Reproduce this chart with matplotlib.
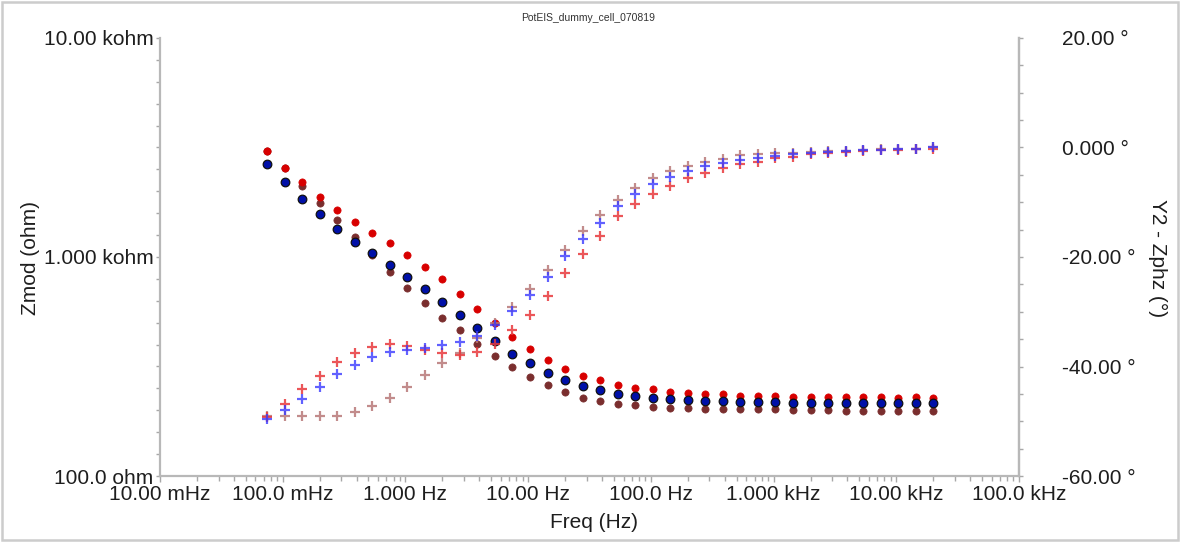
import matplotlib
matplotlib.use("Agg")
import matplotlib.pyplot as plt
from matplotlib.ticker import FixedLocator, FixedFormatter, NullFormatter
from matplotlib.patches import Rectangle

plt.rcParams['font.family'] = ['Liberation Sans', 'DejaVu Sans']

# Measurement frequencies (Hz), low to high
freq = [0.07455, 0.1036, 0.1439, 0.2, 0.2779, 0.3861, 0.5365, 0.7455, 1.036, 1.439,
        2.0, 2.779, 3.861, 5.365, 7.455, 10.36, 14.39, 20.0, 27.79, 38.61,
        53.65, 74.55, 103.6, 143.9, 200.0, 277.9, 386.1, 536.5, 745.5, 1036.0,
        1439.0, 2000.0, 2779.0, 3861.0, 5365.0, 7455.0, 10359.0, 14394.0, 20000.0]

# |Z| (ohm) for the three runs
zmod_blue = [2660, 2193, 1834, 1572, 1343, 1170, 1040, 919, 813, 713,
             621, 543, 472, 413, 361, 327, 295, 273, 257, 246,
             238, 232, 228, 225, 222, 221, 221, 217, 217, 217,
             216, 216, 216, 216, 216, 216, 216, 216, 216]
zmod_red = [3048, 2557, 2193, 1874, 1640, 1450, 1292, 1156, 1021, 903,
            794, 678, 579, 500, 429, 379, 339, 309, 287, 274,
            259, 253, 249, 243, 240, 237, 236, 233, 233, 233,
            230, 230, 230, 230, 230, 230, 228, 230, 228]
zmod_brown = [3048, 2541, 2117, 1766, 1480, 1230, 1024, 854, 724, 619,
              528, 464, 402, 354, 314, 284, 259, 242, 226, 219,
              213, 210, 207, 205, 205, 202, 202, 202, 202, 202,
              200, 200, 200, 199, 199, 199, 199, 199, 199]

# Phase (degrees) for the three runs
zphz_blue = [-49.6, -48.0, -45.9, -43.7, -41.4, -39.7, -38.2, -37.4, -36.9, -36.7,
             -36.1, -35.6, -34.5, -32.5, -29.8, -27.0, -23.7, -19.9, -16.8, -13.7,
             -10.6, -8.5, -6.7, -5.4, -4.3, -3.4, -2.9, -2.3, -1.9, -1.55,
             -1.24, -1.0, -0.82, -0.7, -0.5, -0.4, -0.33, -0.27, 0.04]
zphz_red = [-49.2, -46.8, -44.1, -41.7, -39.1, -37.5, -36.4, -35.9, -36.2, -37.0,
            -37.6, -37.9, -37.4, -35.9, -33.4, -30.6, -27.1, -22.9, -19.5, -16.2,
            -12.6, -10.4, -8.5, -7.0, -5.6, -4.6, -3.7, -3.1, -2.6, -1.9,
            -1.7, -1.2, -0.95, -0.8, -0.6, -0.46, -0.46, -0.33, -0.33]
zphz_brown = [-49.0, -49.1, -49.1, -49.1, -49.0, -48.4, -47.2, -45.8, -43.7, -41.6,
              -39.4, -37.5, -34.8, -32.1, -29.1, -25.9, -22.4, -18.7, -15.2, -12.3,
              -9.5, -7.4, -5.6, -4.3, -3.4, -2.6, -2.1, -1.4, -1.2, -0.95,
              -0.95, -0.77, -0.7, -0.6, -0.4, -0.33, -0.2, -0.2, 0.04]

x_ticks = [0.01, 0.1, 1, 10, 100, 1e3, 1e4, 1e5]
x_labels = ["10.00 mHz", "100.0 mHz", "1.000 Hz", "10.00 Hz", "100.0 Hz",
            "1.000 kHz", "10.00 kHz", "100.0 kHz"]
z_ticks = [100, 1000, 10000]
z_labels = ["100.0 ohm", "1.000 kohm", "10.00 kohm"]
p_ticks = [-60, -40, -20, 0, 20]
p_labels = ["-60.00 \u00b0", "-40.00 \u00b0", "-20.00 \u00b0", "0.000 \u00b0", "20.00 \u00b0"]

W, H = 1180, 542
fig = plt.figure(figsize=(W / 100, H / 100), dpi=100)
fig.patch.set_facecolor('white')
fig.patches.append(Rectangle((2 / W, 2 / H), 1 - 4 / W, 1 - 4 / H, transform=fig.transFigure,
                             fill=False, edgecolor='#cccccc', linewidth=1.8))

ax = fig.add_axes([160 / W, 66 / H, 859 / W, 438 / H])
ax.set_xscale('log')
ax.set_yscale('log')
ax.set_xlim(0.01, 1e5)
ax.set_ylim(100, 1e4)

spine_c = '#b8b8b8'
tick_c = '#a8a8a8'
text_c = '#1e1e1e'
fs = 15

ax.spines['top'].set_visible(False)
for s in ['left', 'bottom', 'right']:
    ax.spines[s].set_color(spine_c)
    ax.spines[s].set_linewidth(1.6)

# Magnitude markers
ax.plot(freq, zmod_brown, 'o', ms=5.2, color='#7a2e2e', mec='#7a2e2e', mew=0.5, zorder=3)
ax.plot(freq, zmod_red, 'o', ms=5.2, color='#d80000', mec='#d80000', mew=0.5, zorder=4)
ax.plot(freq, zmod_blue, 'o', ms=6.2, color='#0010a8', mec='#101010', mew=0.9, zorder=5)

ax.xaxis.set_major_locator(FixedLocator(x_ticks))
ax.xaxis.set_major_formatter(FixedFormatter(x_labels))
minor_x = [m * 10.0 ** d for d in range(-2, 5) for m in range(2, 10)]
ax.xaxis.set_minor_locator(FixedLocator(minor_x))
ax.xaxis.set_minor_formatter(NullFormatter())

ax.yaxis.set_major_locator(FixedLocator(z_ticks))
ax.yaxis.set_major_formatter(FixedFormatter(z_labels))
minor_y = [10 ** (2 + k / 10) for k in range(1, 20) if k != 10]
ax.yaxis.set_minor_locator(FixedLocator(minor_y))
ax.yaxis.set_minor_formatter(NullFormatter())

ax.tick_params(axis='x', which='both', direction='out', color=tick_c, labelsize=fs,
               labelcolor=text_c, pad=2.5)
ax.tick_params(axis='x', which='major', length=4, width=1)
ax.tick_params(axis='x', which='minor', length=3.5, width=1)
ax.tick_params(axis='y', which='both', direction='out', color=tick_c, labelsize=fs,
               labelcolor=text_c, pad=1.5, length=3, width=1)

# Phase on secondary axis
ax2 = ax.twinx()
ax2.set_ylim(-60, 20)
for s in ['top', 'left', 'bottom']:
    ax2.spines[s].set_visible(False)
ax2.spines['right'].set_color(spine_c)
ax2.spines['right'].set_linewidth(1.6)

ax2.plot(freq, zphz_brown, '+', ms=7, mew=1.6, color='#b87878', alpha=0.85, zorder=3)
ax2.plot(freq, zphz_red, '+', ms=7, mew=1.6, color='#e8383c', alpha=0.85, zorder=4)
ax2.plot(freq, zphz_blue, '+', ms=7, mew=1.6, color='#3a3aff', alpha=0.8, zorder=5)

ax2.yaxis.set_major_locator(FixedLocator(p_ticks))
ax2.yaxis.set_major_formatter(FixedFormatter(p_labels))
ax2.yaxis.set_minor_locator(FixedLocator(list(range(-55, 20, 5))))
ax2.tick_params(axis='y', which='both', direction='out', color=tick_c, labelsize=fs,
                labelcolor=text_c, pad=28, length=3, width=1)

fig.text(588 / W, 1 - 18 / H, "PotEIS_dummy_cell_070819", ha='center', va='center',
         fontsize=7.5, color='#333333')
fig.text(594 / W, 1 - 523 / H, "Freq (Hz)", ha='center', va='center', fontsize=fs,
         color=text_c)
fig.text(30 / W, 1 - 258 / H, "Zmod (ohm)", ha='center', va='center', rotation=90,
         fontsize=fs, color=text_c)
fig.text(1158 / W, 1 - 258 / H, "Y2 - Zphz (\u00b0)", ha='center', va='center', rotation=270,
         fontsize=fs, color=text_c)

fig.savefig("out.png", dpi=100, facecolor='white')
